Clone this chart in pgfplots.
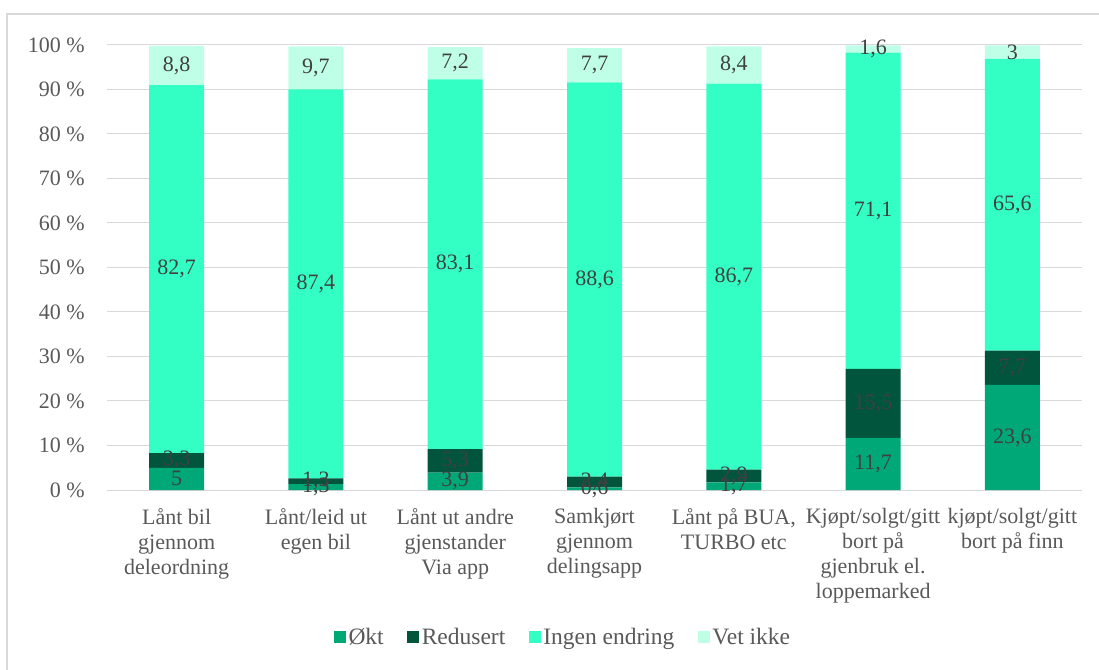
\documentclass[border=0pt]{standalone}
\usepackage{pgfplots}
\usepackage{pgfplotstable}
\pgfplotsset{compat=1.18}
\usepackage{fontspec}
\setmainfont{Liberation Serif}
\definecolor{okt}{HTML}{00A878}
\definecolor{redu}{HTML}{00553C}
\definecolor{ingen}{HTML}{33FFC4}
\definecolor{vet}{HTML}{BFFFE8}
\definecolor{gridc}{HTML}{D9D9D9}
\definecolor{tickc}{HTML}{595959}
\definecolor{labc}{HTML}{404040}

\pgfplotstableread{
x okt redu ingen vet
0 5 3.3 82.7 8.8
1 1.3 1.3 87.4 9.7
2 3.9 5.3 83.1 7.2
3 0.6 2.4 88.6 7.7
4 1.7 2.9 86.7 8.4
5 11.7 15.5 71.1 1.6
6 23.6 7.7 65.6 3
}\data

\pgfplotsset{common/.style={
  at={(107pt,179pt)}, anchor=south west, scale only axis,
  width=975pt, height=445pt,
  xmin=-0.5, xmax=6.5, ymin=0, ymax=100,
  ybar stacked, bar width=55pt,
  font=\fontsize{22}{25}\selectfont,
}}

\begin{document}
\begin{tikzpicture}
\path[use as bounding box] (0,0) rectangle (1099pt,669pt);
\draw[gridc, line width=1.2pt] (7pt,-5pt) -- (7pt,655pt) -- (1105pt,655pt);

\begin{axis}[common,
  axis line style={draw=none}, major tick length=0pt,
  ymajorgrids, grid style={gridc, line width=1pt},
  ytick={0,10,...,100},
  yticklabels={0 \%,10 \%,20 \%,30 \%,40 \%,50 \%,60 \%,70 \%,80 \%,90 \%,100 \%},
  yticklabel style={anchor=east, inner sep=0pt, xshift=-22pt, text=tickc},
  xtick={0,...,6},
  xticklabels={{Lånt bil\\gjennom\\deleordning},{Lånt/leid ut\\egen bil},{Lånt ut andre\\gjenstander\\Via app},{Samkjørt\\gjennom\\delingsapp},{Lånt på BUA,\\TURBO etc},{Kjøpt/solgt/gitt\\bort på\\gjenbruk el.\\loppemarked},{kjøpt/solgt/gitt\\bort på finn}},
  xticklabel style={align=center, anchor=north, inner sep=0pt, yshift=-18pt, text=tickc},
  legend style={at={(0.468,-0.330)}, anchor=center, draw=none, legend columns=4, text=tickc,
    font=\fontsize{23.5}{25}\selectfont,
    nodes={inner sep=2.5pt},
    /tikz/every even column/.append style={column sep=21pt}},
  legend image code/.code={\fill[#1] (0pt,-6pt) rectangle (12pt,6pt);},
]
\addplot[fill=okt, draw=none] table[x=x,y=okt]{\data};
\addlegendentry{Økt}
\addplot[fill=redu, draw=none] table[x=x,y=redu]{\data};
\addlegendentry{Redusert}
\addplot[fill=ingen, draw=none] table[x=x,y=ingen]{\data};
\addlegendentry{Ingen endring}
\addplot[fill=vet, draw=none] table[x=x,y=vet]{\data};
\addlegendentry{Vet ikke}
\end{axis}

\begin{axis}[common, hide axis, clip=false,
  nodes near coords,
  point meta=explicit,
  every node near coord/.append style={anchor=center, text=labc, inner sep=0pt},
  /pgf/number format/.cd, use comma, fixed, precision=1, assume math mode=true]
\addplot[draw=none, fill=none] table[x=x,y=okt,meta=okt]{\data};
\addplot[draw=none, fill=none] table[x=x,y=redu,meta=redu]{\data};
\addplot[draw=none, fill=none] table[x=x,y=ingen,meta=ingen]{\data};
\addplot[draw=none, fill=none] table[x=x,y=vet,meta=vet]{\data};
\end{axis}
\end{tikzpicture}
\end{document}
